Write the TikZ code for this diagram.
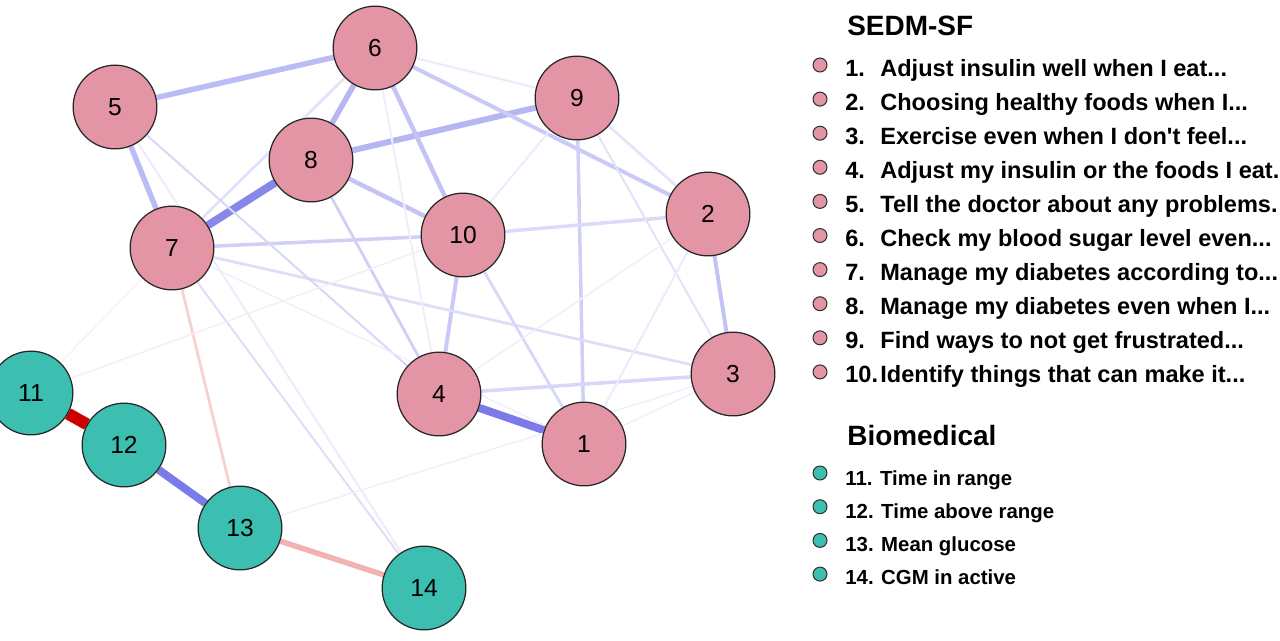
\documentclass[tikz,border=0pt]{standalone}
\usepackage{fontspec}
\setmainfont{Liberation Sans}
\usetikzlibrary{backgrounds}
\definecolor{sedmpink}{RGB}{228,149,165}
\definecolor{bioteal}{RGB}{60,191,176}
\definecolor{posblue}{RGB}{122,122,232}
\definecolor{negred}{RGB}{204,0,0}
\newcommand{\trail}{...}
\tikzset{
    item/.style={circle,draw=black!85,line width=0.7pt,minimum size=84*0.567pt,inner sep=0pt,font=\fontsize{14}{16}\selectfont},
    sedm/.style={item,fill=sedmpink},
    bio/.style={item,fill=bioteal},
    dot/.style={circle,draw=black!80,line width=0.6pt,minimum size=14*0.567pt,inner sep=0pt},
    head/.style={anchor=base west,inner sep=0pt,font=\fontsize{15.9}{18}\selectfont\bfseries},
    entry/.style={anchor=base west,inner sep=0pt,font=\fontsize{13.4}{15}\selectfont\bfseries},
    bioentry/.style={anchor=base west,inner sep=0pt,font=\fontsize{11.6}{13}\selectfont\bfseries},
}

\begin{document}
\begin{tikzpicture}[x=0.02cm,y=-0.02cm]
    \useasboundingbox (0,0) rectangle (1280,640);
    % network nodes
    \foreach \n/\x/\y in {1/584/444,2/708/214,3/733/374,4/439/394,5/115/107,
                          6/375/48,7/172/248,8/311/160,9/577/98,10/463/235}{
        \node[sedm] (n\n) at (\x,\y) {\n};
    }
    \foreach \n/\x/\y in {11/31/393,12/124/445,13/240/528,14/424/588}{
        \node[bio] (n\n) at (\x,\y) {\n};
    }
    % edges: from/to/width in px/colour
    \begin{scope}[on background layer]
        \foreach \a/\b/\w/\col in {
            11/12/12/negred, 12/13/8/posblue, 4/1/8/posblue, 7/8/8/posblue!90,
            13/14/5.5/negred!30, 8/9/6/posblue!55, 5/6/5.5/posblue!50, 5/7/5.5/posblue!50,
            6/8/5.5/posblue!55, 6/10/4.5/posblue!45, 8/10/4.5/posblue!45, 6/2/4/posblue!40,
            2/3/4/posblue!45, 10/4/4/posblue!40, 9/1/3.5/posblue!35, 7/10/3.5/posblue!35,
            10/2/3.5/posblue!28, 4/3/3.5/posblue!30, 7/3/2.8/posblue!25, 8/4/2.8/posblue!35,
            10/1/2.8/posblue!30, 6/7/2.8/posblue!22, 5/4/2/posblue!30, 7/14/2/posblue!25,
            5/14/2/posblue!15, 7/13/2.8/negred!18, 6/9/2/posblue!15, 9/10/2/posblue!15,
            9/2/2.8/posblue!20, 9/3/2/posblue!22, 6/4/2/posblue!12, 1/2/2/posblue!15,
            1/3/1.4/posblue!12, 4/2/1.4/posblue!12, 13/3/1.4/posblue!12, 11/10/1.4/negred!8,
            11/7/1.4/negred!6, 7/1/1.4/posblue!12}{
            \draw[line width=\w*0.567pt,\col] (n\a) -- (n\b);
        }
    \end{scope}
    % legend
    \node[head] (sedmhead) at (847,35) {SEDM-SF};
    \foreach \i/\txt in {1/Adjust insulin well when I eat\trail, 2/Choosing healthy foods when I\trail,
                         3/Exercise even when I don\textquotesingle t feel\trail, 4/Adjust my insulin or the foods I eat.,
                         5/Tell the doctor about any problems., 6/Check my blood sugar level even\trail,
                         7/Manage my diabetes according to\trail, 8/Manage my diabetes even when I\trail,
                         9/Find ways to not get frustrated\trail, 10/Identify things that can make it\trail}{
        \node[dot,fill=sedmpink] (sdot\i) at (820,{65+34.1*(\i-1)}) {};
        \node[entry] (snum\i) at (845,{76+34.1*(\i-1)}) {\i.};
        \node[entry] (stxt\i) at (880,{76+34.1*(\i-1)}) {\txt};
    }
    \node[head] (biohead) at (847,445) {Biomedical};
    \foreach \i/\txt in {11/Time in range, 12/Time above range, 13/Mean glucose, 14/CGM in active}{
        \node[dot,fill=bioteal] (bdot\i) at (820,{473+33.7*(\i-11)}) {};
        \node[bioentry] (btxt\i) at (845,{485+33*(\i-11)}) {\i. \txt};
    }
\end{tikzpicture}
\end{document}
